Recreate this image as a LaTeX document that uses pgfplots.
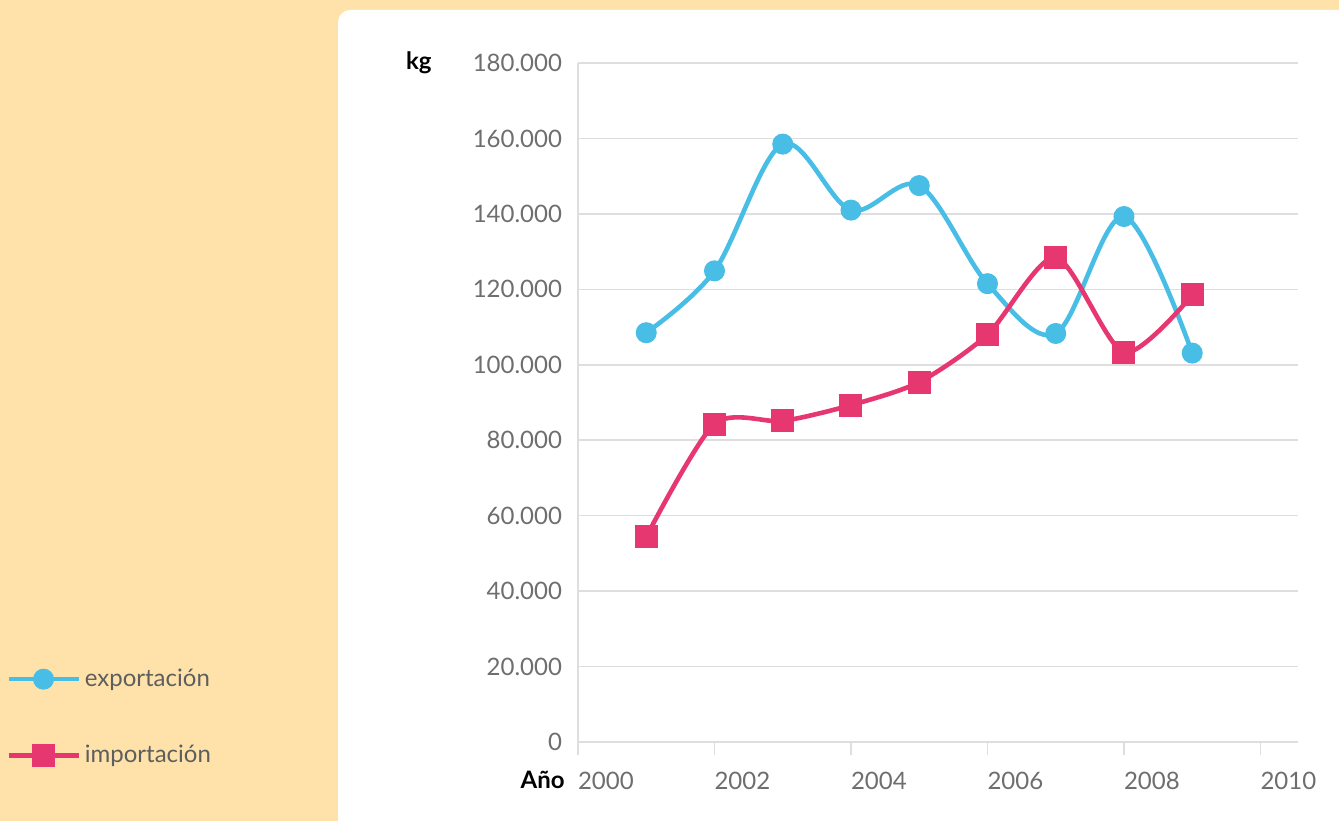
\documentclass[border=0pt]{standalone}
\usepackage{pgfplots}
\pgfplotsset{compat=1.18}
\usepackage{fontspec}
\setmainfont{Lato}
\definecolor{bgpeach}{RGB}{255,226,170}
\definecolor{expc}{RGB}{72,190,230}
\definecolor{impc}{RGB}{230,55,112}
\definecolor{gridc}{RGB}{222,222,222}
\definecolor{tickc}{RGB}{110,110,110}
\begin{document}
\begin{tikzpicture}[x=1pt,y=1pt]
\useasboundingbox (0,0) rectangle (669.5,410.5);
\fill[bgpeach] (0,0) rectangle (669.5,410.5);
\fill[white, rounded corners=6pt] (169,-10) rectangle (680,405.5);
\begin{axis}[
  at={(289pt,39.5pt)}, anchor=south west,
  scale only axis, width=360pt, height=339.5pt,
  xmin=2000, xmax=2010.55, ymin=0, ymax=180000,
  axis lines=left, axis line style={draw=gridc, line width=0.8pt, -},
  xtick={2000,2002,...,2010}, ytick={0,20000,...,180000},
  tick align=outside, major tick length=6.5pt,
  x tick style={draw=gridc, line width=0.8pt}, y tick style={draw=none},
  ymajorgrids, grid style={draw=gridc, line width=0.8pt},
  ticklabel style={font=\fontsize{12}{14}\selectfont, text=tickc},
  /pgf/number format/assume math mode=true,
  y tick label style={/pgf/number format/fixed, /pgf/number format/1000 sep={.}, xshift=2pt},
  x tick label style={/pgf/number format/1000 sep={}, anchor=north west, xshift=-3.5pt, yshift=-5pt},
  scaled y ticks=false,
  clip=false,
  legend style={at={(-0.803,0.12)}, anchor=north west, draw=none, fill=none,
     font=\fontsize{12}{14}\selectfont, text=tickc!85!black, row sep=24pt,
     /tikz/every even column/.append style={column sep=4pt}},
  legend cell align=left,
  legend image code/.code={
     \draw[#1, mark=none] (0pt,0pt) -- (35pt,0pt);
     \draw[#1, only marks] plot coordinates {(17.5pt,0pt)};
  },
]
\addplot[color=expc, line width=2.3pt, smooth, tension=0.55, mark=*, mark size=5pt, mark options={fill=expc, draw=expc, line width=0.5pt}]
coordinates {(2001,108500) (2002,124900) (2003,158500) (2004,141000) (2005,147500) (2006,121500) (2007,108300) (2008,139300) (2009,103100)};
\addlegendentry{exportación}
\addplot[color=impc, line width=2.3pt, smooth, tension=0.45, mark=square*, mark size=5.5pt, mark options={fill=impc, draw=impc, line width=0.5pt}]
coordinates {(2001,54400) (2002,84300) (2003,85100) (2004,89300) (2005,95400) (2006,108000) (2007,128500) (2008,103300) (2009,118500)};
\addlegendentry{importación}
\node[anchor=east, inner sep=0pt, font=\bfseries\fontsize{12}{14}\selectfont] at (rel axis cs:0,1) [xshift=-73pt] {kg};
\node[anchor=east, inner sep=0pt, font=\bfseries\fontsize{12}{14}\selectfont] at (rel axis cs:0,0) [xshift=-6.5pt, yshift=-19pt] {Año};
\end{axis}
\end{tikzpicture}
\end{document}
